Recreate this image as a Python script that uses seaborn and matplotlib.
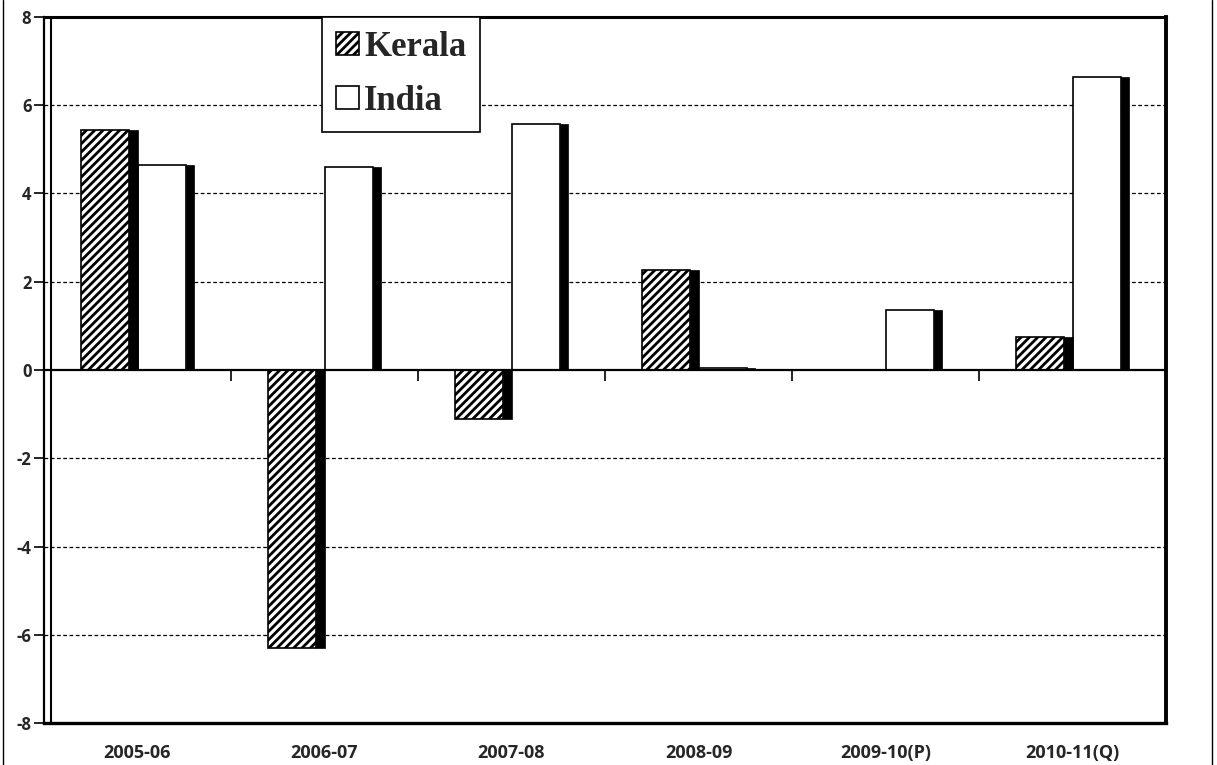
import matplotlib
matplotlib.use("Agg")
import matplotlib.pyplot as plt
import pandas as pd
import seaborn as sns
from matplotlib.patches import Rectangle
from matplotlib.lines import Line2D

# Data (growth rate, %)
years = ["2005-06", "2006-07", "2007-08", "2008-09", "2009-10(P)", "2010-11(Q)"]
regions = ["Kerala", "India"]
kerala = [5.45, -6.3, -1.1, 2.27, 0.0, 0.75]
india = [4.65, 4.6, 5.58, 0.05, 1.36, 6.65]
yticks = [-8, -6, -4, -2, 0, 2, 4, 6, 8]

df = pd.DataFrame({
    "Year": years * 2,
    "Region": ["Kerala"] * len(years) + ["India"] * len(years),
    "Growth": kerala + india,
})

sns.set_style("white")
plt.rcParams["font.family"] = ["Open Sans", "DejaVu Sans"]
plt.rcParams["hatch.linewidth"] = 2.0

fig = plt.figure(figsize=(12.17, 7.65), dpi=100)
ax = fig.add_axes([44 / 1217, 1 - 723 / 765, (1166 - 44) / 1217, (723 - 17) / 765])

sns.barplot(data=df, x="Year", y="Growth", hue="Region", hue_order=regions,
            palette=["white", "white"], edgecolor="black", linewidth=1.2,
            width=0.6, legend=False, ax=ax, zorder=3)

# shrink each bar a little and put a dark "3D" side on its right
for i, cont in enumerate(ax.containers):
    for p in cont.patches:
        w = p.get_width()
        h = p.get_height()
        p.set_width(w * 0.857)
        if i == 0:
            p.set_hatch("////")
        if h != 0:
            ax.add_patch(Rectangle((p.get_x() + w * 0.857, 0), w * 0.143, h,
                                   facecolor="black", edgecolor="black",
                                   linewidth=0.5, zorder=3))

ax.set_ylim(-8, 8)
ax.set_xlim(-0.5, len(years) - 0.5)
ax.set_yticks(yticks)
ax.set_yticklabels([str(v) for v in yticks], fontsize=12, fontweight="bold")
ax.set_xticks(range(len(years)))
ax.set_xticklabels(years, fontsize=13, fontweight="bold")
ax.tick_params(axis="x", which="major", length=0, pad=15)
ax.set_xticks([b - 0.5 for b in range(len(years) + 1)], minor=True)
ax.tick_params(axis="x", which="minor", length=9, width=1.2, direction="out", color="black")
ax.tick_params(axis="y", length=7, width=1.2, direction="out", color="black", left=True, pad=2)
ax.set_xlabel("")
ax.set_ylabel("")

# dashed gridlines
for v in yticks:
    if v not in (0, -8, 8):
        ax.axhline(v, color="black", linestyle=(0, (3, 2)), linewidth=0.9, zorder=1)

# category axis at zero with small ticks at group boundaries
ax.axhline(0, color="black", linewidth=1.6, zorder=4)
ax.vlines([b - 0.5 for b in range(1, len(years) + 1)], -0.25, 0,
          color="black", linewidth=1.2, zorder=4)
ax.axvline(-0.5 + 0.04, color="black", linewidth=1.5, zorder=4)

for s in ax.spines.values():
    s.set_visible(True)
    s.set_color("black")
ax.spines["left"].set_linewidth(1.6)
ax.spines["bottom"].set_linewidth(2.4)
ax.spines["top"].set_linewidth(2.2)
ax.spines["right"].set_linewidth(2.8)

leg = ax.legend(handles=list(ax.containers), labels=regions,
                loc="upper left", bbox_to_anchor=(0.248, 1.0), borderaxespad=0,
                frameon=True, fancybox=False, framealpha=1, edgecolor="black",
                handlelength=0.65, handleheight=0.65, handletextpad=0.15,
                labelspacing=0.6, borderpad=0.4,
                prop={"family": "Liberation Serif", "weight": "bold", "size": 25})
leg.get_frame().set_linewidth(1.2)
leg.set_zorder(6)

# scanned page edges
fig.add_artist(Line2D([3 / 1217, 3 / 1217], [0, 1], color="black", linewidth=1))
fig.add_artist(Line2D([1212 / 1217, 1212 / 1217], [0, 1], color="black", linewidth=1))

fig.savefig("out.png", dpi=100, facecolor="white")
